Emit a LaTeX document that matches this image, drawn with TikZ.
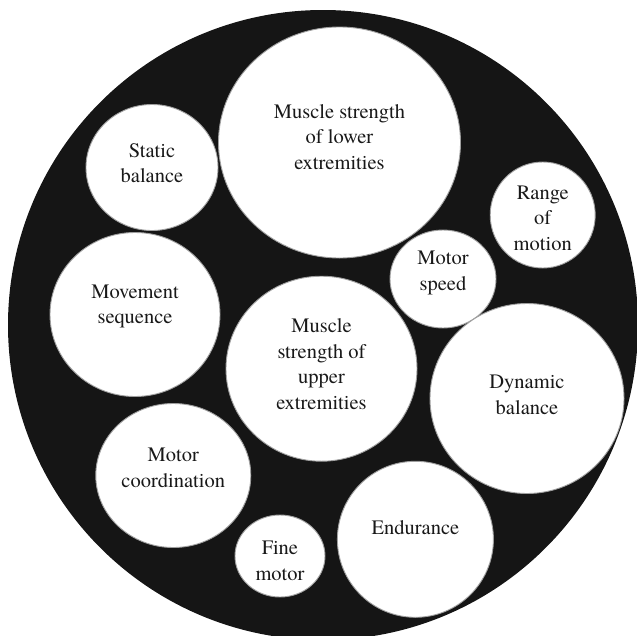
\documentclass[tikz,border=0pt]{standalone}
\usepackage{fontspec}
\setmainfont{texgyretermes-regular.otf}
\newfontfamily\bubblefont{texgyretermes-regular.otf}
\usetikzlibrary{shapes.geometric}
\definecolor{discblack}{HTML}{151515}

\begin{document}
\begin{tikzpicture}[x=1pt, y=-1pt, disc/.style={circle, fill=discblack, inner sep=0pt}, bubble/.style={ellipse, draw=gray!75, line width=0.9pt, fill=white, inner sep=0pt}, txt/.style={align=center, inner sep=0pt, font=\bubblefont\fontsize{20.5}{25.4}\selectfont, text=black!90}]
\useasboundingbox (0,0) rectangle (637,635);

% outer disc
\node[disc, minimum size=630pt] (disc) at (323,325) {};

% bubbles
\node[bubble, minimum width=242pt, minimum height=231pt] (lower) at (339.5,142.5) {};
\node[bubble, minimum width=132pt, minimum height=126pt] (static) at (152,167.5) {};
\node[bubble, minimum width=105pt, minimum height=106pt] (range) at (542.7,215) {};
\node[bubble, minimum width=106pt, minimum height=98pt] (speed) at (443,279) {};
\node[bubble, minimum width=170pt, minimum height=164pt] (movement) at (135,314.5) {};
\node[bubble, minimum width=191pt, minimum height=185pt] (upper) at (321.5,368.7) {};
\node[bubble, minimum width=194pt, minimum height=190pt] (dynamic) at (527,398.5) {};
\node[bubble, minimum width=155pt, minimum height=144pt] (coord) at (173.3,475.5) {};
\node[bubble, minimum width=156pt, minimum height=156pt] (endurance) at (415.4,539.3) {};
\node[bubble, minimum width=90pt, minimum height=82pt] (fine) at (280,556) {};

% labels
\node[txt] (lowertxt) at ([yshift=5.5pt]lower.center) {Muscle strength\\of lower\\extremities};
\node[txt] (statictxt) at ([yshift=4.5pt]static.center) {Static\\balance};
\node[txt] (rangetxt) at ([yshift=-3pt]range.center) {Range\\of\\motion};
\node[txt] (speedtxt) at ([yshift=6pt]speed.center) {Motor\\speed};
\node[txt] (movementtxt) at ([yshift=8pt]movement.center) {Movement\\sequence};
\node[txt] (uppertxt) at ([yshift=4.7pt]upper.center) {Muscle\\strength of\\upper\\extremities};
\node[txt] (dynamictxt) at ([yshift=3.5pt]dynamic.center) {Dynamic\\balance};
\node[txt] (coordtxt) at ([yshift=7.5pt]coord.center) {Motor\\coordination};
\node[txt] (endurancetxt) at ([yshift=12pt]endurance.center) {Endurance};
\node[txt] (finetxt) at ([yshift=-5pt]fine.center) {Fine\\motor};
\end{tikzpicture}
\end{document}
